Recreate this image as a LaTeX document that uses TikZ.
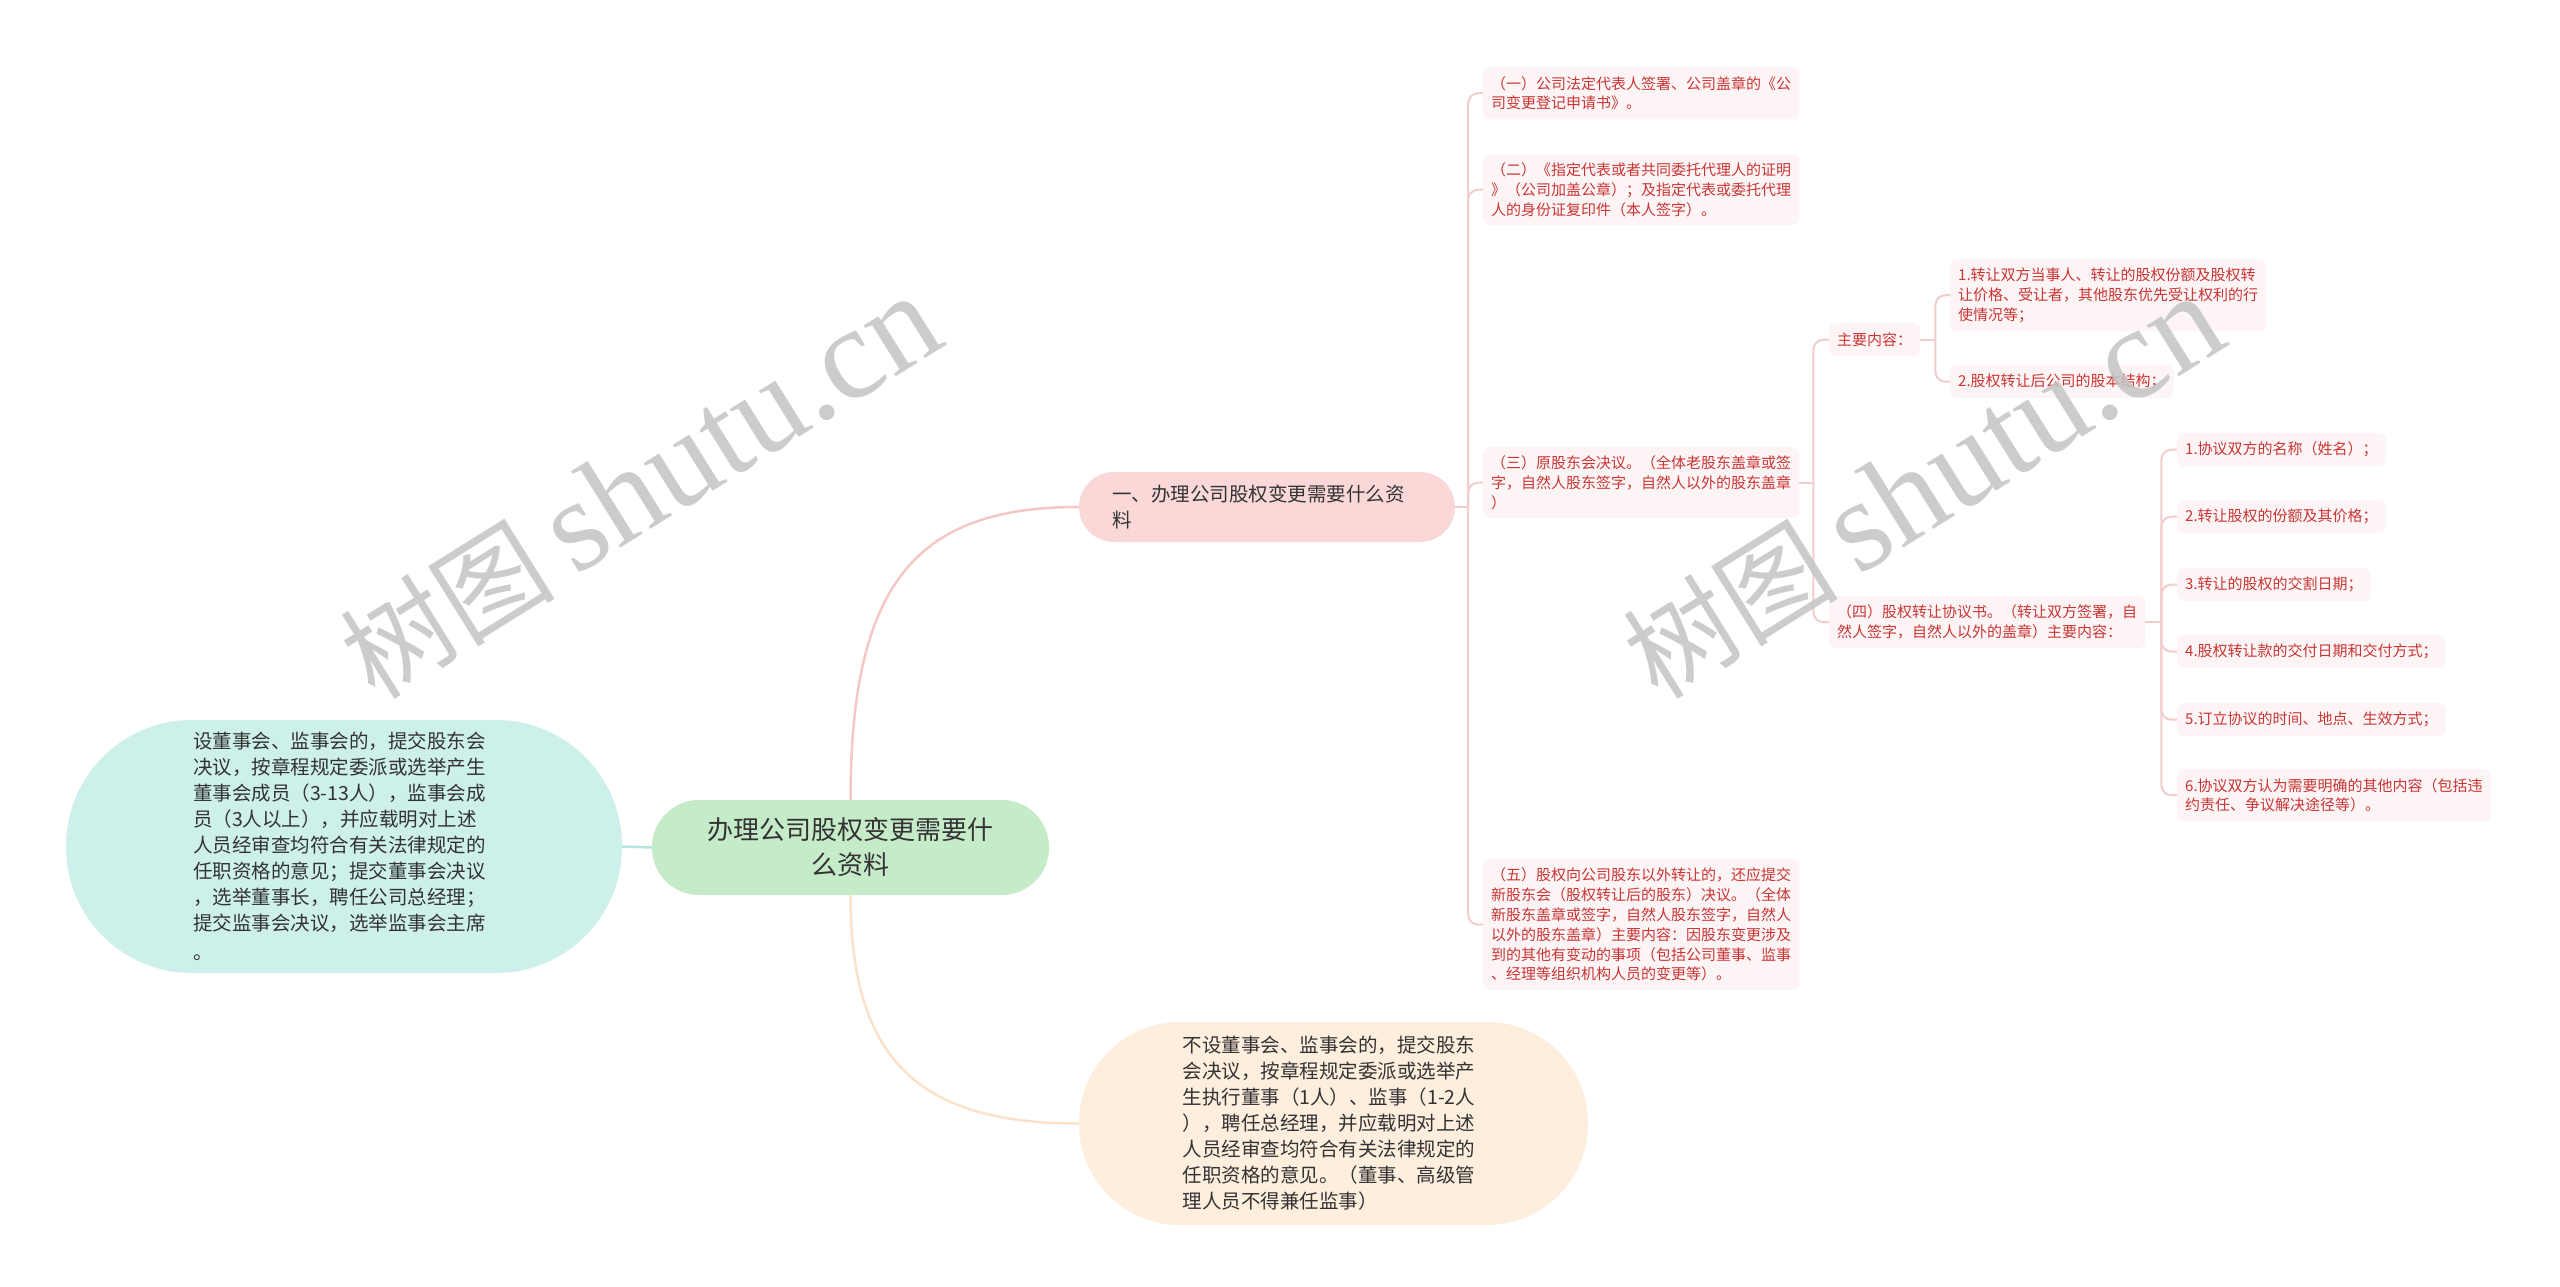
\documentclass[tikz,border=0pt]{standalone}
\usepackage{fontspec}
\setmainfont{Noto Sans CJK SC}
\newfontfamily\wmserif{Liberation Serif}
\usetikzlibrary{calc}
\definecolor{rootfill}{HTML}{C6EBC9}
\definecolor{pinkfill}{HTML}{FAD8D8}
\definecolor{tealfill}{HTML}{CDF0EA}
\definecolor{peachfill}{HTML}{FDEEDD}
\definecolor{smallfill}{HTML}{FDF5F5}
\definecolor{smalltext}{HTML}{C93535}
\definecolor{darktext}{HTML}{333333}
\definecolor{linepink}{HTML}{F2CDCD}
\definecolor{linepinkroot}{HTML}{F5C8C8}
\definecolor{linepeach}{HTML}{FBE3CB}
\definecolor{lineteal}{HTML}{B6E6DE}
\definecolor{wmgray}{HTML}{C4C4C4}
\tikzset{
  bigbox/.style={rectangle, text=darktext, font=\fontsize{19.5}{26}\selectfont, align=left, inner sep=0},
  small/.style={rectangle, rounded corners=7, fill=smallfill, text=smalltext,
    font=\fontsize{15}{19.8}\selectfont, align=left, inner xsep=8, inner ysep=0, anchor=north west},
  lv/.style={draw=linepink, line width=2},
  wm/.style={text=wmgray, opacity=0.85, font=\fontsize{108}{108}\selectfont, inner sep=0, anchor=base west, rotate=32}
}
\begin{document}
\begin{tikzpicture}[x=1pt,y=-1pt]
\useasboundingbox (0,0) rectangle (2560,1287);
\fill[white] (0,0) rectangle (2560,1287);

% level 0 and 1
\node[rectangle, fill=rootfill, rounded corners=47, minimum width=397, minimum height=95,
  text=darktext, font=\fontsize{26}{35}\selectfont, align=center, inner sep=0]
  (root) at (850.5,847.5) {办理公司股权变更需要什\\么资料};
\node[bigbox, fill=pinkfill, rounded corners=35, minimum width=376, minimum height=70, text width=310]
  (pink) at (1267,507) {一、办理公司股权变更需要什么资\\料};
\node[bigbox, fill=tealfill, rounded corners=126, minimum width=556, minimum height=253, text width=302]
  (left) at (344,846.5) {设董事会、监事会的，提交股东会\\决议，按章程规定委派或选举产生\\董事会成员（3-13人），监事会成\\员（3人以上），并应载明对上述\\人员经审查均符合有关法律规定的\\任职资格的意见；提交董事会决议\\，选举董事长，聘任公司总经理；\\提交监事会决议，选举监事会主席\\[3pt]。};
\node[bigbox, fill=peachfill, rounded corners=101, minimum width=509, minimum height=203, text width=302]
  (bot) at (1333.5,1123.5) {不设董事会、监事会的，提交股东\\会决议，按章程规定委派或选举产\\生执行董事（1人）、监事（1-2人\\），聘任总经理，并应载明对上述\\人员经审查均符合有关法律规定的\\任职资格的意见。（董事、高级管\\理人员不得兼任监事）};

% level 2
\node[small, minimum height=52] (n1) at (1483,67) {（一）公司法定代表人签署、公司盖章的《公\\司变更登记申请书》。};
\node[small, minimum height=71] (n2) at (1483,154) {（二）《指定代表或者共同委托代理人的证明\\》（公司加盖公章）；及指定代表或委托代理\\人的身份证复印件（本人签字）。};
\node[small, minimum height=71] (n3) at (1483,447) {（三）原股东会决议。（全体老股东盖章或签\\字，自然人股东签字，自然人以外的股东盖章\\）};
\node[small, minimum height=131] (n5) at (1483,859) {（五）股权向公司股东以外转让的，还应提交\\新股东会（股权转让后的股东）决议。（全体\\新股东盖章或签字，自然人股东签字，自然人\\以外的股东盖章）主要内容：因股东变更涉及\\到的其他有变动的事项（包括公司董事、监事\\、经理等组织机构人员的变更等）。};

% level 3
\node[small, minimum height=33] (zy) at (1829,323) {主要内容：};
\node[small, minimum height=52] (n4) at (1829,596) {（四）股权转让协议书。（转让双方签署，自\\然人签字，自然人以外的盖章）主要内容：};

% level 4
\node[small, minimum height=72] (z1) at (1950,259) {1.转让双方当事人、转让的股权份额及股权转\\让价格、受让者，其他股东优先受让权利的行\\使情况等；};
\node[small, minimum height=33] (z2) at (1950,365) {2.股权转让后公司的股本结构；};
\node[small, minimum height=33] (a1) at (2177,433) {1.协议双方的名称（姓名）；};
\node[small, minimum height=33] (a2) at (2177,500) {2.转让股权的份额及其价格；};
\node[small, minimum height=33] (a3) at (2177,568) {3.转让的股权的交割日期；};
\node[small, minimum height=33] (a4) at (2177,635) {4.股权转让款的交付日期和交付方式；};
\node[small, minimum height=33] (a5) at (2177,703) {5.订立协议的时间、地点、生效方式；};
\node[small, minimum height=52] (a6) at (2177,769) {6.协议双方认为需要明确的其他内容（包括违\\约责任、争议解决途径等）。};

% root connectors
\draw[draw=linepinkroot, line width=2.5] (root.north) .. controls ($(root.north)+(0,-220)$) and ($(pink.west)+(-160,0)$) .. (pink.west);
\draw[draw=linepeach, line width=2.5] (root.south) .. controls ($(root.south)+(0,165)$) and ($(bot.west)+(-160,0)$) .. (bot.west);
\draw[draw=lineteal, line width=2.5] (left.east) -- (root.west);

% tree connectors
\coordinate (s0) at ($(pink.east)+(13,0)$);
\draw[lv] (pink.east) -- (s0);
\foreach \c in {n1,n2,n3,n5} \draw[lv, rounded corners=10] (s0) |- (\c.west);

\coordinate (s3) at ($(n3.east)+(14,0)$);
\draw[lv] (n3.east) -- (s3);
\foreach \c in {zy,n4} \draw[lv, rounded corners=10] (s3) |- (\c.west);

\coordinate (sz) at ($(zy.east)+(15,0)$);
\draw[lv] (zy.east) -- (sz);
\foreach \c in {z1,z2} \draw[lv, rounded corners=10] (sz) |- (\c.west);

\coordinate (s4) at ($(n4.east)+(16,0)$);
\draw[lv] (n4.east) -- (s4);
\foreach \c in {a1,a2,a3,a4,a5,a6} \draw[lv, rounded corners=10] (s4) |- (\c.west);

% watermarks
\node[wm] (wm1) at (375,702) {树图\hspace{20pt}{\fontsize{131}{131}\wmserif shutu.cn}};
\node[wm] (wm2) at (1658,702) {树图\hspace{20pt}{\fontsize{131}{131}\wmserif shutu.cn}};
\end{tikzpicture}
\end{document}
